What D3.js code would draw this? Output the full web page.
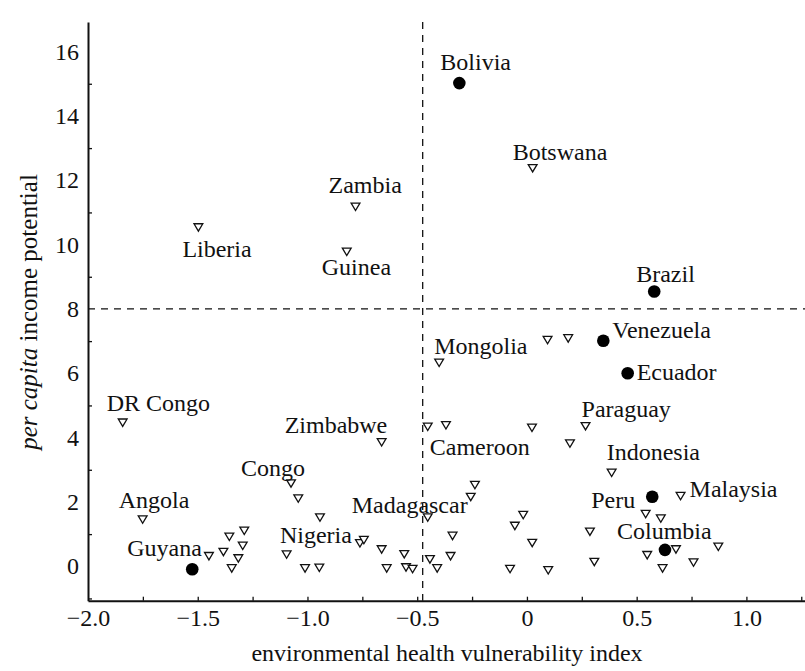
<!DOCTYPE html>
<html>
<head>
<meta charset="utf-8">
<script src="https://cdn.jsdelivr.net/npm/d3@7"></script>
<style>
  body { margin: 0; background: #fff; }
  svg text { font-family: "Liberation Serif", Tinos, "Times New Roman", Times, "DejaVu Serif", serif; fill: #111; }
</style>
</head>
<body>
<div id="chart"></div>
<script>
// labelled countries
var names = ["Bolivia", "Botswana", "Brazil", "Mongolia", "Venezuela", "Ecuador",
    "Zambia", "Liberia", "Guinea", "DR Congo", "Zimbabwe", "Cameroon", "Congo",
    "Angola", "Guyana", "Nigeria", "Madagascar", "Paraguay", "Indonesia", "Peru",
    "Malaysia", "Columbia"];
var vulnerability = [-0.308, 0.026, 0.580, -0.400, 0.348, 0.459,
    -0.781, -1.497, -0.821, -1.842, -0.662, -0.452, -1.075,
    -1.751, -1.525, -0.761, -0.452, 0.267, 0.386, 0.571,
    0.700, 0.629];
var income = [15.02, 12.38, 8.54, 6.33, 7.01, 6.00,
    11.18, 10.54, 9.78, 4.47, 3.86, 4.34, 2.58,
    1.46, -0.09, 0.72, 1.52, 4.36, 2.91, 2.16,
    2.19, 0.51];
var latin = [true, false, true, false, true, true,
    false, false, false, false, false, false, false,
    false, true, false, false, false, false, true,
    false, true];

// unlabelled countries
var otherVulnerability = [-0.369, 0.023, 0.196, 0.094, 0.188,
    -1.042, -0.943, -1.288, -1.356, -1.295, -1.383, -1.315, -1.449, -1.345, -1.095, -1.011, -0.946,
    -0.237, -0.256, -0.017, -0.055, -0.339, 0.024, -0.743, -0.662, -0.559, -0.442, -0.348, -0.639,
    -0.551, -0.521, -0.409, -0.077, 0.097,
    0.541, 0.610, 0.287, 0.679, 0.548, 0.872, 0.307, 0.759, 0.618];
var otherIncome = [4.39, 4.31, 3.82, 7.04, 7.09,
    2.11, 1.52, 1.11, 0.92, 0.64, 0.45, 0.25, 0.32, -0.06, 0.37, -0.06, -0.04,
    2.53, 2.16, 1.60, 1.26, 0.95, 0.73, 0.82, 0.53, 0.38, 0.22, 0.32, -0.06,
    -0.03, -0.08, -0.06, -0.08, -0.12,
    1.63, 1.49, 1.08, 0.53, 0.35, 0.61, 0.14, 0.12, -0.06];

var xLabelTicks = [-2.0, -1.5, -1.0, -0.5, 0, 0.5, 1.0];
var yLabelTicks = [0, 2, 4, 6, 8, 10, 12, 14, 16];
var xCut = -0.475;
var yCut = 8;

// label placement (pixels from marker: start x, baseline y)
var labelOffset = {
    "Bolivia": [-19, -13], "Botswana": [-20, -8], "Brazil": [-18, -10],
    "Mongolia": [-5, -9], "Venezuela": [9, -3], "Ecuador": [9, 7],
    "Zambia": [-27, -14], "Liberia": [-16, 30], "Guinea": [-25, 23],
    "DR Congo": [-16, -11], "Zimbabwe": [-97, -9], "Cameroon": [2, 28],
    "Congo": [-50, -7], "Angola": [-24, -11], "Guyana": [-65, -13],
    "Nigeria": [-80, 0], "Madagascar": [-76, -4], "Paraguay": [-4, -9],
    "Indonesia": [-5, -13], "Peru": [-61, 11], "Malaysia": [9, 1],
    "Columbia": [-48, -11]
};

var width = 805, height = 671;
var fontSize = 24;
var serif = '"Liberation Serif", Tinos, "Times New Roman", Times, "DejaVu Serif", serif';

var svg = d3.select("#chart").append("svg")
    .attr("width", width)
    .attr("height", height)
    .attr("font-family", serif);

var x = d3.scaleLinear().domain([-2, 1.267]).range([88, 805]);
var y = d3.scaleLinear().domain([-1.07, 16.92]).range([600.7, 22]);

var points = names.map(function(n, i) {
    return {name: n, x: vulnerability[i], y: income[i], latin: latin[i]};
});
otherVulnerability.forEach(function(v, i) {
    points.push({name: null, x: v, y: otherIncome[i], latin: false});
});

// dashed quadrant lines
svg.append("line")
    .attr("x1", x(xCut)).attr("x2", x(xCut))
    .attr("y1", y.range()[1]).attr("y2", y.range()[0])
    .attr("stroke", "#111").attr("stroke-width", 1.3)
    .attr("stroke-dasharray", "7,6");
svg.append("line")
    .attr("x1", x.range()[0]).attr("x2", x.range()[1])
    .attr("y1", y(yCut)).attr("y2", y(yCut))
    .attr("stroke", "#111").attr("stroke-width", 1.3)
    .attr("stroke-dasharray", "7,6");

// axes
var fmt = function(d) { return d === 0 ? "0" : d3.format(".1f")(d); };

var gX = svg.append("g")
    .attr("transform", "translate(0," + y.range()[0] + ")")
    .call(d3.axisBottom(x).tickValues(xLabelTicks).tickSize(0).tickPadding(8).tickFormat(fmt));
var xMinor = d3.range(-1.75, 1.26, 0.25);
svg.append("g")
    .attr("transform", "translate(0," + y.range()[0] + ")")
    .call(d3.axisBottom(x).tickValues(xMinor).tickSize(-4).tickFormat(""))
    .call(function(g) { g.select(".domain").remove(); });

var gY = svg.append("g")
    .attr("transform", "translate(" + x.range()[0] + ",0)")
    .call(d3.axisLeft(y).tickValues(yLabelTicks).tickSize(0).tickPadding(9));
var yMinor = d3.range(-1, 17, 2);
svg.append("g")
    .attr("transform", "translate(" + x.range()[0] + ",0)")
    .call(d3.axisLeft(y).tickValues(yMinor).tickSize(-4).tickFormat(""))
    .call(function(g) { g.select(".domain").remove(); });

svg.selectAll("g").attr("font-family", serif).attr("font-size", fontSize);
svg.selectAll(".domain").attr("stroke", "#111").attr("stroke-width", 2);
svg.selectAll(".tick line").attr("stroke", "#111").attr("stroke-width", 1.3);
svg.selectAll(".tick text").attr("fill", "#111");

// axis titles
svg.append("text")
    .attr("x", 447).attr("y", 661)
    .attr("text-anchor", "middle")
    .attr("font-size", fontSize)
    .text("environmental health vulnerability index");

var yTitle = svg.append("text")
    .attr("transform", "translate(37,312) rotate(-90)")
    .attr("text-anchor", "middle")
    .attr("font-size", 25);
yTitle.append("tspan").attr("font-style", "italic").text("per capita");
yTitle.append("tspan").text(" income potential");

// markers
var tri = "M-4.4,-3.5L4.4,-3.5L0,3.9Z";

svg.selectAll(".tri")
    .data(points.filter(function(d) { return !d.latin; }))
    .enter().append("path")
    .attr("class", "tri")
    .attr("d", tri)
    .attr("transform", function(d) { return "translate(" + x(d.x) + "," + y(d.y) + ")"; })
    .attr("fill", "#fff")
    .attr("stroke", "#111")
    .attr("stroke-width", 1.3);

svg.selectAll(".dot")
    .data(points.filter(function(d) { return d.latin; }))
    .enter().append("circle")
    .attr("class", "dot")
    .attr("cx", function(d) { return x(d.x); })
    .attr("cy", function(d) { return y(d.y); })
    .attr("r", 6.3)
    .attr("fill", "#000");

// country labels
svg.selectAll(".lab")
    .data(points.filter(function(d) { return d.name; }))
    .enter().append("text")
    .attr("class", "lab")
    .attr("x", function(d) { return x(d.x) + labelOffset[d.name][0]; })
    .attr("y", function(d) { return y(d.y) + labelOffset[d.name][1]; })
    .attr("font-size", fontSize)
    .text(function(d) { return d.name; });
</script>
</body>
</html>
